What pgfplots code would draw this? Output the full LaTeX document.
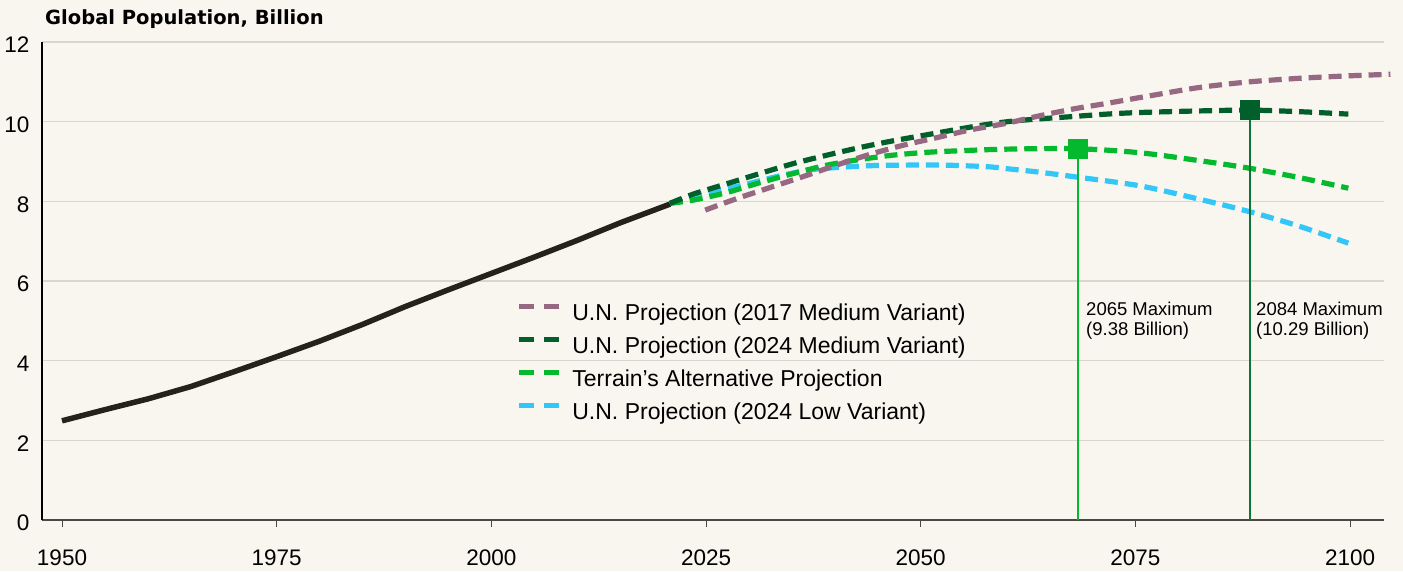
\documentclass[border=0pt]{standalone}
\usepackage{pgfplots}
\pgfplotsset{compat=1.18}
\usepackage{fontspec}
\setmainfont{Liberation Sans}
\newfontfamily\titlefont{DejaVu Sans}
\definecolor{bgc}{HTML}{F9F5EF}
\definecolor{gridc}{HTML}{DAD5CE}
\definecolor{axc}{HTML}{4A4744}
\definecolor{mauve}{HTML}{976882}
\definecolor{dgreen}{HTML}{005F2A}
\definecolor{vgreen}{HTML}{0E7438}
\definecolor{bgreen}{HTML}{05B92F}
\definecolor{lblue}{HTML}{33C7F7}
\definecolor{histc}{HTML}{25221C}
\begin{document}
\begin{tikzpicture}
\fill[bgc] (-42pt,-51pt) rectangle (1361pt,520pt);
\path[use as bounding box] (-42pt,-51pt) rectangle (1361pt,520pt);
\node[anchor=base west, inner sep=0pt] at (3pt,495pt) {\titlefont\bfseries\fontsize{19.5}{22}\selectfont Global Population, Billion};
\begin{axis}[
  at={(0pt,0pt)}, anchor=south west,
  scale only axis, width=1342pt, height=478pt,
  xmin=1947.67, xmax=2103.95, ymin=0, ymax=12,
  clip=false,
  axis x line*=bottom, axis y line*=left,
  x axis line style={draw=axc, line width=1.8pt, -},
  y axis line style={draw=black, line width=1.2pt, -},
  xtick={1950,1975,2000,2025,2050,2075,2100},
  ytick={0,2,4,6,8,10,12},
  ymajorgrids, grid style={draw=gridc, line width=1.2pt},
  tick align=outside, major tick length=7pt,
  xtick style={draw=axc, line width=1pt},
  ytick style={draw=none},
  /pgf/number format/assume math mode=true,
  /pgf/number format/1000 sep={},
  ticklabel style={font=\fontsize{22.5}{26}\selectfont},
  xticklabel style={anchor=base, yshift=-38pt},
  yticklabel style={anchor=east, xshift=-2pt, yshift=-3pt},
  legend style={at={(0.3532,0.454)}, anchor=north west, draw=none, fill=none,
    inner sep=0pt, row sep=10pt, font=\fontsize{23}{27}\selectfont,
    nodes={inner sep=0pt, text height=17pt, text depth=6pt}},
  legend cell align=left, reverse legend,
  legend image code/.code={\draw[#1, dash pattern=on 15pt off 10pt] (0pt,8pt) -- (40pt,8pt); \path (0pt,0pt) (51pt,0pt);},
  every axis plot/.append style={line width=5.2pt, dash pattern=on 13pt off 7pt},
]
\addplot[lblue, smooth] coordinates {
(2020.8,7.95) (2025,8.2) (2029.3,8.41) (2033.2,8.62) (2037.1,8.79) (2041,8.86) (2044.9,8.90)
(2048.8,8.91) (2052.6,8.91) (2057.7,8.87) (2060,8.82) (2063.5,8.74) (2067.8,8.62) (2075.5,8.39)
(2082.5,8.05) (2088.3,7.74) (2094,7.38) (2099.8,6.95)};
\addlegendentry{U.N. Projection (2024 Low Variant)}
\addplot[bgreen, smooth] coordinates {
(2020.8,7.95) (2023.5,8.03) (2027.4,8.22) (2031.3,8.47) (2035.2,8.70) (2039.1,8.91) (2042.9,9.05)
(2046.8,9.16) (2050.7,9.23) (2054.6,9.27) (2060,9.31) (2068.3,9.32) (2075.5,9.22) (2082.5,9.02)
(2088.3,8.83) (2094,8.6) (2099.8,8.33)};
\addlegendentry{Terrain’s Alternative Projection}
\addplot[dgreen, smooth] coordinates {
(2020.8,7.95) (2023.5,8.18) (2027.4,8.44) (2031.3,8.70) (2035.2,8.95) (2039.1,9.16) (2042.9,9.35)
(2046.8,9.52) (2050.7,9.67) (2054.6,9.82) (2058,9.94) (2061,10.02) (2064.5,10.08) (2067.8,10.13)
(2071.7,10.19) (2075.5,10.23) (2082.5,10.27) (2088.3,10.29) (2094.2,10.25) (2099.8,10.19)};
\addlegendentry{U.N. Projection (2024 Medium Variant)}
\addplot[mauve, smooth] coordinates {
(2024.9,7.78) (2028.6,8.07) (2032.5,8.35) (2036.3,8.62) (2040.2,8.91) (2044.1,9.18) (2048,9.41)
(2051.9,9.6) (2055.7,9.79) (2060,9.96) (2063.9,10.15) (2067.8,10.32) (2071.7,10.46) (2076.7,10.65)
(2082.5,10.86) (2088.3,11.0) (2094.2,11.09) (2099.8,11.15) (2104.7,11.19)};
\addlegendentry{U.N. Projection (2017 Medium Variant)}
\addplot[histc, line width=5.5pt, solid, forget plot] coordinates {
(1950,2.49) (1955,2.77) (1960,3.04) (1965,3.35) (1970,3.72) (1975,4.10) (1980,4.49)
(1985,4.91) (1990,5.36) (1995,5.78) (2000,6.19) (2005,6.60) (2010,7.02) (2015,7.46) (2020.8,7.93)};
\addplot[bgreen, line width=1.8pt, solid, forget plot] coordinates {(2068.3,0) (2068.3,9.32)};
\addplot[vgreen, line width=1.8pt, solid, forget plot] coordinates {(2088.3,0) (2088.3,10.29)};
\addplot[bgreen, only marks, solid, mark=square*, mark size=7.5pt, forget plot] coordinates {(2068.3,9.32)};
\addplot[dgreen, only marks, solid, mark=square*, mark size=7.5pt, forget plot] coordinates {(2088.3,10.29)};
\node[anchor=base west, inner sep=0pt, font=\fontsize{18.5}{20}\selectfont] at (axis cs:2069.25,5.122) {2065 Maximum};
\node[anchor=base west, inner sep=0pt, font=\fontsize{18.5}{20}\selectfont] at (axis cs:2069.25,4.62) {(9.38 Billion)};
\node[anchor=base west, inner sep=0pt, font=\fontsize{18.5}{20}\selectfont] at (axis cs:2089.05,5.122) {2084 Maximum};
\node[anchor=base west, inner sep=0pt, font=\fontsize{18.5}{20}\selectfont] at (axis cs:2089.05,4.62) {(10.29 Billion)};
\end{axis}
\end{tikzpicture}
\end{document}
